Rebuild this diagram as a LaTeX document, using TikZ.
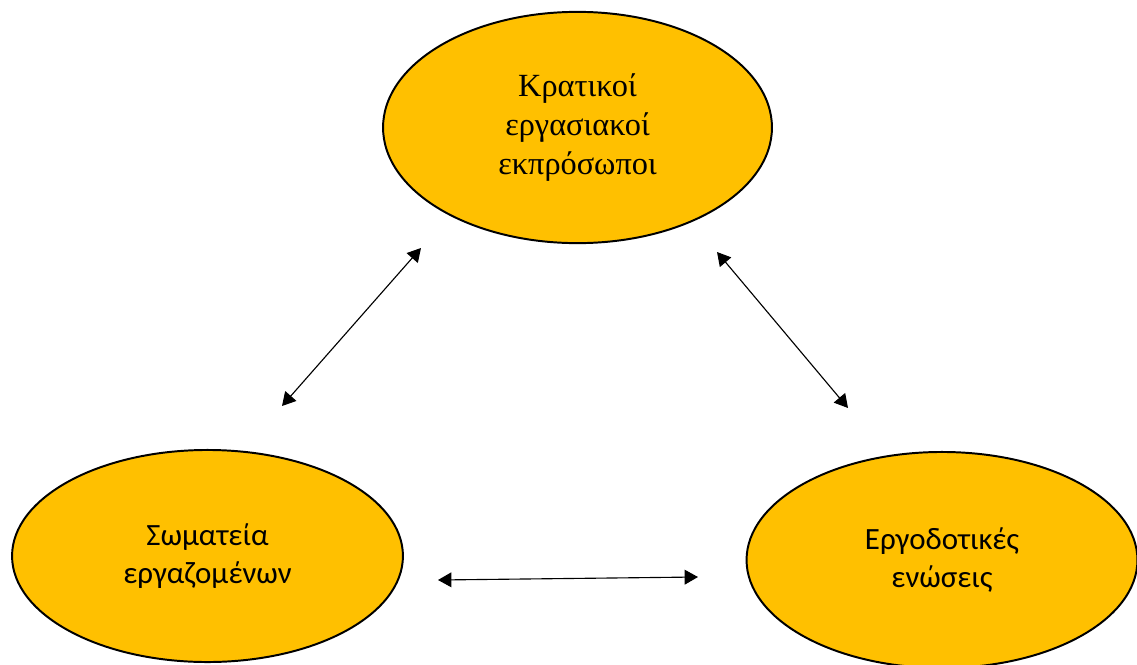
\documentclass[tikz,border=0pt]{standalone}
\usepackage{fontspec}
\setmainfont{Liberation Serif}
\newfontfamily\greekserif{Liberation Serif}
\newfontfamily\greeksans{Carlito}
\usetikzlibrary{shapes.geometric, arrows.meta}
\definecolor{partygold}{HTML}{FFC000}

\begin{document}
\begin{tikzpicture}[x=0.025cm, y=-0.025cm,
        party/.style={ellipse, draw=black, line width=1.4pt, fill=partygold,
            inner sep=0pt, align=center},
        link/.style={line width=0.8pt, {Triangle[length=9.5pt,width=10.5pt]}-{Triangle[length=9.5pt,width=10.5pt]}}]
        \useasboundingbox (0,0) rectangle (1137,664);

        \node[party, minimum width=9.72cm, minimum height=5.78cm,
            font=\greekserif\fontsize{23}{28}\selectfont] (state) at (577.5,127.5)
            {Κρατικοί\\εργασιακοί\\εκπρόσωποι};
        \node[party, minimum width=9.77cm, minimum height=5.3cm,
            font=\greeksans\fontsize{22}{27.5}\selectfont] (unions) at (207.5,556)
            {Σωματεία\\εργαζομένων};
        \node[party, minimum width=9.77cm, minimum height=5.4cm,
            font=\greeksans\fontsize{22}{27.5}\selectfont] (employers) at (942,560)
            {Εργοδοτικές\\ενώσεις};

        \coordinate (su) at (421,248);
        \coordinate (sl) at (282,406);
        \coordinate (eu) at (717,252);
        \coordinate (el) at (848,408);
        \coordinate (ul) at (438,580);
        \coordinate (ur) at (698,577);

        \draw[link] (sl) -- (su);
        \draw[link] (eu) -- (el);
        \draw[link] (ul) -- (ur);

    \end{tikzpicture}
\end{document}
